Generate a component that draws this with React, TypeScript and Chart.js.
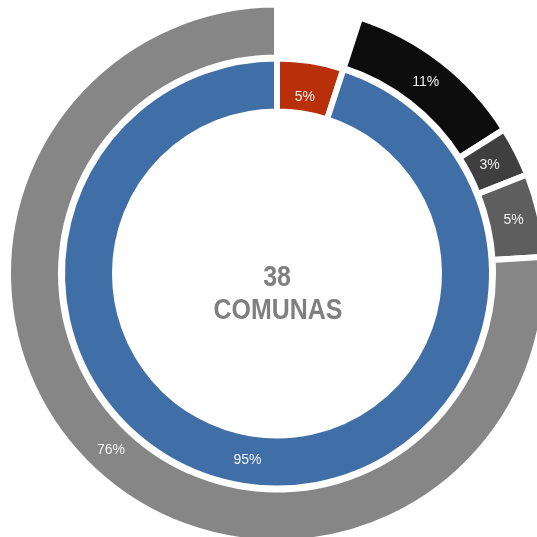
import React, { useEffect, useRef } from "react";
import { Chart, registerables } from "chart.js";

Chart.register(...registerables);

// Outer ring: first slice is an empty (hidden) gap matching the inner 5%
const outerLabels = ["", "11%", "3%", "5%", "76%"];
const outerValues = [5, 11, 3, 5, 76];
const outerColors = ["rgba(0,0,0,0)", "#0D0D0D", "#3F3F3F", "#5E5E5E", "#868686"];

// Inner ring
const innerLabels = ["5%", "95%"];
const innerValues = [5, 95];
const innerColors = ["#B8300A", "#406FA8"];

const centerLines = ["38", "COMUNAS"];

const OUTER_R = 269;
const INNER_R = 162;

// small radial nudges (px) for label placement, per ring
const outerLabelShift = [0, 0, -4, 0, 0];
const innerLabelShift = [-10, 0];

const labelPlugin = {
  id: "sliceLabels",
  afterDatasetsDraw(chart: any) {
    const ctx = chart.ctx;
    ctx.save();
    ctx.font = "14px 'Liberation Sans', Arial, sans-serif";
    ctx.fillStyle = "#F2F2F2";
    ctx.textAlign = "center";
    ctx.textBaseline = "middle";
    const sets: [number, string[], number[]][] = [
      [0, outerLabels, outerLabelShift],
      [2, innerLabels, innerLabelShift],
    ];
    for (const [di, labels, shifts] of sets) {
      const meta = chart.getDatasetMeta(di);
      meta.data.forEach((arc: any, i: number) => {
        const txt = labels[i];
        if (!txt) return;
        const { startAngle, endAngle, innerRadius, outerRadius, x, y } = arc.getProps(
          ["startAngle", "endAngle", "innerRadius", "outerRadius", "x", "y"],
          true
        );
        const a = (startAngle + endAngle) / 2;
        const r = (innerRadius + outerRadius) / 2 + (shifts[i] || 0);
        ctx.fillText(txt, x + Math.cos(a) * r, y + Math.sin(a) * r);
      });
    }
    // center text
    const area = chart.chartArea;
    const cx = (area.left + area.right) / 2;
    const cy = (area.top + area.bottom) / 2;
    ctx.fillStyle = "#7F7F7F";
    ctx.font = "bold 29px 'Liberation Sans', Arial, sans-serif";
    ctx.textBaseline = "alphabetic";
    const sx = 0.86;
    ctx.save();
    ctx.translate(cx, 0);
    ctx.scale(sx, 1);
    ctx.fillText(centerLines[0], 0, cy + 12.5);
    ctx.fillText(centerLines[1], 1 / sx, cy + 45);
    ctx.restore();
    ctx.restore();
  },
};

export default function App() {
  const ref = useRef<HTMLCanvasElement>(null);
  useEffect(() => {
    if (!ref.current) return;
    const chart = new Chart(ref.current, {
      type: "doughnut",
      data: {
        labels: outerLabels,
        datasets: [
          {
            data: outerValues,
            backgroundColor: outerColors,
            borderColor: outerColors.map((c, i) => (i === 0 ? "rgba(0,0,0,0)" : "#FFFFFF")),
            borderWidth: 6,
            weight: 53,
          } as any,
          {
            data: [1],
            backgroundColor: ["rgba(0,0,0,0)"],
            borderWidth: 0,
            weight: 1,
          } as any,
          {
            data: innerValues,
            backgroundColor: innerColors,
            borderColor: "#FFFFFF",
            borderWidth: 6,
            weight: 53,
          } as any,
        ],
      },
      options: {
        animation: false,
        responsive: false,
        radius: OUTER_R,
        cutout: ((INNER_R / OUTER_R) * 100).toFixed(4) + "%",
        layout: { padding: { left: 17, top: 10, right: 0, bottom: 0 } },
        plugins: {
          legend: { display: false },
          tooltip: { enabled: false },
        },
      } as any,
      plugins: [labelPlugin],
    });
    return () => chart.destroy();
  }, []);
  return (
    <div style={{ position: "fixed", left: 0, top: 0, width: 537, height: 537, overflow: "hidden", background: "#FFFFFF" }}>
      <canvas ref={ref} width={537} height={537} style={{ display: "block" }} />
    </div>
  );
}
